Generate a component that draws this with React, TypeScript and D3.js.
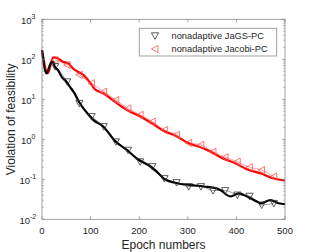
import React from "react";
import * as d3 from "d3";

// thick curves (epoch, log10 value)
const jacobiEpochs = [0, 12, 23, 33, 43, 54, 64, 74, 85, 95, 109, 126, 150, 175, 202, 226, 254, 271, 302, 333, 360, 367, 398, 420, 449, 477, 500];
const jacobiLog = [2.23, 1.65, 2.05, 2.02, 1.94, 1.9, 1.77, 1.69, 1.61, 1.48, 1.25, 1.15, 0.94, 0.73, 0.57, 0.4, 0.19, 0.11, -0.1, -0.23, -0.4, -0.45, -0.6, -0.74, -0.85, -0.98, -1.03];

const jagsEpochs = [0, 9, 18, 23, 26, 33, 40, 50, 60, 67, 74, 99, 106, 126, 150, 175, 195, 223, 243, 250, 278, 305, 333, 360, 367, 388, 405, 422, 443, 450, 470, 487, 500];
const jagsLog = [2.23, 1.65, 1.9, 1.94, 1.82, 1.73, 1.57, 1.44, 1.27, 1.15, 0.98, 0.57, 0.48, 0.32, -0.04, -0.27, -0.48, -0.68, -0.89, -0.98, -1.1, -1.14, -1.18, -1.23, -1.27, -1.43, -1.35, -1.43, -1.56, -1.6, -1.52, -1.6, -1.62];

// marker series
const markerEpochs = [27, 52, 77, 102, 127, 152, 177, 202, 227, 252, 277, 302, 327, 352, 377, 402, 427, 452, 477];
const jacobiMarkLog = [1.98, 1.86, 1.61, 1.4, 1.19, 0.98, 0.77, 0.61, 0.44, 0.23, 0.11, -0.09, -0.14, -0.31, -0.45, -0.56, -0.7, -0.77, -0.93];
const jagsMarkLog = [1.82, 1.44, 0.9, 0.57, 0.32, -0.06, -0.27, -0.56, -0.68, -0.98, -1.08, -1.18, -1.18, -1.28, -1.28, -1.39, -1.42, -1.64, -1.6];

const xTicks = [0, 100, 200, 300, 400, 500];
const yExps = [-2, -1, 0, 1, 2, 3];
const legendLabels = ["nonadaptive JaGS-PC", "nonadaptive Jacobi-PC"];

const W = 315;
const H = 252;
const m = { left: 42, right: 285, top: 19.3, bottom: 219.3 };
const axisColor = "#8a8a8a";
const textColor = "#262626";
const font = "Liberation Sans, Arial, sans-serif";

export default function App() {
  const x = d3.scaleLinear().domain([0, 500]).range([m.left, m.right]);
  const y = d3.scaleLog().domain([1e-2, 1e3]).range([m.bottom, m.top]);

  const line = d3
    .line<[number, number]>()
    .x((d) => x(d[0]))
    .y((d) => y(Math.pow(10, d[1])))
    .curve(d3.curveMonotoneX);

  const zip = (e: number[], v: number[]) => e.map((d, i) => [d, v[i]] as [number, number]);
  const jacobi = zip(jacobiEpochs, jacobiLog);
  const jags = zip(jagsEpochs, jagsLog);
  const jacobiM = zip(markerEpochs, jacobiMarkLog);
  const jagsM = zip(markerEpochs, jagsMarkLog);

  const minor: number[] = [];
  for (let e = -2; e < 3; e++) for (let k = 2; k <= 9; k++) minor.push(k * Math.pow(10, e));

  const s = 3.6;
  const triDown = (cx: number, cy: number) =>
    `M${cx - s},${cy - s * 0.8}L${cx + s},${cy - s * 0.8}L${cx},${cy + s}Z`;
  const triLeft = (cx: number, cy: number) =>
    `M${cx + s * 0.8},${cy - s}L${cx + s * 0.8},${cy + s}L${cx - s},${cy}Z`;

  return (
    <svg width={W} height={H} style={{ position: "absolute", left: 0, top: 0 }} fontFamily={font}>
      <rect width={W} height={H} fill="#fff" />
      <rect x={m.left} y={m.top} width={m.right - m.left} height={m.bottom - m.top} fill="#fff" />

      {/* thin lines through markers */}
      <path d={line(jacobiM) || ""} fill="none" stroke="#ff8080" strokeWidth={0.8} />
      <path d={line(jagsM) || ""} fill="none" stroke="#808080" strokeWidth={0.8} />

      {/* thick curves */}
      <path d={line(jacobi) || ""} fill="none" stroke="#ff0000" strokeWidth={2.2} />
      <path d={line(jags) || ""} fill="none" stroke="#000" strokeWidth={2.2} />

      {jacobiM.map((d, i) => (
        <path key={"r" + i} d={triLeft(x(d[0]), y(Math.pow(10, d[1])))} fill="none" stroke="#ff5050" strokeWidth={0.8} />
      ))}
      {jagsM.map((d, i) => (
        <path key={"b" + i} d={triDown(x(d[0]), y(Math.pow(10, d[1])))} fill="none" stroke="#333" strokeWidth={0.8} />
      ))}

      {/* axes box */}
      <rect x={m.left} y={m.top} width={m.right - m.left} height={m.bottom - m.top} fill="none" stroke={axisColor} strokeWidth={0.8} />
      {xTicks.map((t) => (
        <g key={"x" + t}>
          <line x1={x(t)} x2={x(t)} y1={m.bottom} y2={m.bottom - 3} stroke={axisColor} strokeWidth={0.8} />
          <line x1={x(t)} x2={x(t)} y1={m.top} y2={m.top + 3} stroke={axisColor} strokeWidth={0.8} />
          <text x={x(t)} y={233.5} fontSize={9.5} fill={textColor} textAnchor="middle">
            {t}
          </text>
        </g>
      ))}
      {minor.map((v, i) => (
        <g key={"mn" + i}>
          <line x1={m.left} x2={m.left + 1.8} y1={y(v)} y2={y(v)} stroke={axisColor} strokeWidth={0.6} />
          <line x1={m.right} x2={m.right - 1.8} y1={y(v)} y2={y(v)} stroke={axisColor} strokeWidth={0.6} />
        </g>
      ))}
      {yExps.map((e) => (
        <g key={"y" + e}>
          <line x1={m.left} x2={m.left + 3} y1={y(Math.pow(10, e))} y2={y(Math.pow(10, e))} stroke={axisColor} strokeWidth={0.8} />
          <line x1={m.right} x2={m.right - 3} y1={y(Math.pow(10, e))} y2={y(Math.pow(10, e))} stroke={axisColor} strokeWidth={0.8} />
          <text x={e < 0 ? 30 : 31.5} y={y(Math.pow(10, e)) + 5} fontSize={9.5} fill={textColor} textAnchor="end">
            10
          </text>
          <text x={e < 0 ? 30 : 31.5} y={y(Math.pow(10, e)) - 0.5} fontSize={7} fill={textColor}>
            {e}
          </text>
        </g>
      ))}

      <text x={(m.left + m.right) / 2} y={248.5} fontSize={12} fill={textColor} textAnchor="middle">
        Epoch numbers
      </text>
      <text transform={`translate(14.5,${(m.top + m.bottom) / 2}) rotate(-90)`} fontSize={12} fill={textColor} textAnchor="middle">
        Violation of feasibility
      </text>

      {/* legend */}
      <rect x={139.3} y={28.3} width={137.4} height={27.7} fill="#fff" stroke={axisColor} strokeWidth={0.8} />
      <path d={triDown(155, 35.7)} fill="none" stroke="#333" strokeWidth={0.8} />
      <path d={triLeft(155, 49)} fill="none" stroke="#ff5050" strokeWidth={0.8} />
      {legendLabels.map((l, i) => (
        <text key={l} x={171.5} y={39 + i * 13.3} fontSize={9.3} fill={textColor}>
          {l}
        </text>
      ))}
    </svg>
  );
}
